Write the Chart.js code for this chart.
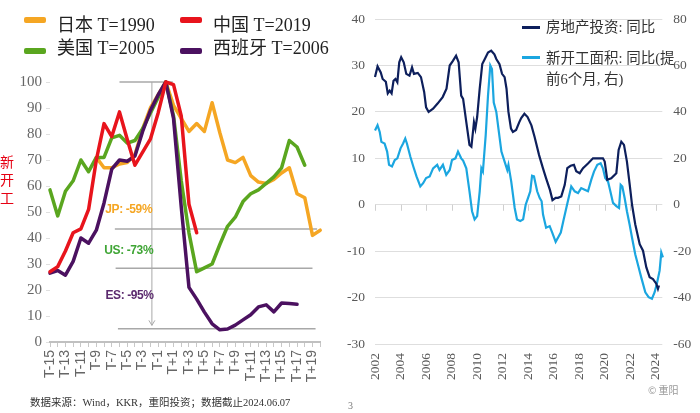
<!DOCTYPE html>
<html><head><meta charset="utf-8">
<script src="https://cdn.jsdelivr.net/npm/chart.js@4.4.1/dist/chart.umd.min.js"></script>
<style>
html,body{margin:0;padding:0;background:#fff;}
body{width:700px;height:413px;position:relative;overflow:hidden;font-family:'Liberation Serif','Noto Sans CJK SC',serif;}
.abs{position:absolute;white-space:nowrap;}
#c1wrap{position:absolute;left:0;top:0;width:340px;height:413px;}
#c2wrap{position:absolute;left:340px;top:0;width:360px;height:413px;}
.sw{position:absolute;height:6px;width:22px;border-radius:2px;}
.lg1{position:absolute;font-size:18px;line-height:20px;color:#222;white-space:nowrap;}
.sw2{position:absolute;height:3px;width:18px;}
.lg2{position:absolute;font-size:14.5px;line-height:18px;color:#333;white-space:nowrap;}
</style></head><body>
<div id="c1wrap"><canvas id="c1" width="340" height="413"></canvas></div>
<div id="c2wrap"><canvas id="c2" width="360" height="413"></canvas></div>
<div id="leg1"></div>
<div id="leg2"></div>
<div class="abs" style="left:0;top:152px;width:14px;font-size:14px;line-height:18px;color:#e60012;text-align:center;font-family:'Noto Sans CJK SC';white-space:normal;">新<br>开<br>工</div>
<div class="abs" style="left:30px;top:394px;font-size:10.5px;color:#333;">数据来源：Wind，KKR，重阳投资；数据截止2024.06.07</div>
<div class="abs" style="left:648px;top:382px;font-size:10px;color:#999;font-family:'Noto Sans CJK SC';">© 重阳</div>
<div class="abs" style="left:348px;top:400px;font-size:10px;color:#777;">3</div>
<script>
// ---------- Left chart data ----------
const categories = ['T-15','T-14','T-13','T-12','T-11','T-10','T-9','T-8','T-7','T-6','T-5','T-4','T-3','T-2','T-1','T',
  'T+1','T+2','T+3','T+4','T+5','T+6','T+7','T+8','T+9','T+10','T+11','T+12','T+13','T+14','T+15','T+16','T+17','T+18','T+19','T+20'];
const japan = [null,null,null,null,null,null,71,67,67,68.5,69,72,82,90,95,100,
  91,86,81,84,81,92,80.5,70,69,71,64,61.5,61,62.5,65,67,57,55.5,41,43];
const china = [27,29,35,42,43.5,51,70,84,79,88.5,78,68,73,78,88,100,
  99,87,53,42,null,null,null,null,null,null,null,null,null,null,null,null,null,null,null,null];
const usa = [58.5,48.5,58,62,70,65.5,71,71,78.5,79.5,76.5,77.5,82,88,94,100,
  87,62,42,27,28.5,30,37.5,44.5,48,54,57,58.5,61,63.5,67,77.5,75,68,null,null];
const spain = [26.5,27.5,25.7,31,40,38,43,53.5,66.5,70,69.5,71.5,81,89,95,100,
  86,52,21,16.5,11.5,7,4.7,5,6.5,8.5,10.5,13.5,14.3,11.6,15,14.8,14.5,null,null,null];
const seriesLabels = ['日本 T=1990','中国 T=2019','美国 T=2005','西班牙 T=2006'];

// ---------- Right chart data ----------
const invYears = [2002.0,2002.2,2002.45,2002.6,2002.85,2003.0,2003.15,2003.3,2003.45,2003.6,2003.75,2003.9,2004.05,2004.25,2004.45,2004.7,2004.9,2005.05,2005.35,2005.6,2005.85,2006.0,2006.2,2006.55,2006.9,2007.3,2007.6,2007.85,2008.1,2008.35,2008.55,2008.75,2008.9,2009.15,2009.4,2009.55,2009.75,2009.86,2010.0,2010.2,2010.4,2010.6,2010.85,2011.1,2011.35,2011.5,2011.75,2011.95,2012.15,2012.3,2012.45,2012.65,2012.8,2013.05,2013.3,2013.45,2013.7,2013.95,2014.25,2014.5,2014.85,2015.15,2015.4,2015.7,2015.9,2016.15,2016.33,2016.59,2016.86,2017.06,2017.32,2017.58,2017.76,2018.03,2018.29,2018.68,2019.07,2019.46,2019.85,2019.99,2020.19,2020.5,2020.9,2021.08,2021.29,2021.5,2021.73,2021.95,2022.13,2022.38,2022.73,2022.99,2023.25,2023.51,2023.77,2024.03,2024.16,2024.24];
const invValues = [27.5,29.8,28.5,27.1,26.5,24.0,24.6,24.0,26.7,27.1,26.4,30.7,31.8,30.7,28.2,27.8,29.6,28.2,28.4,27.5,24.3,21.0,20.0,20.7,21.8,23.2,25.0,30.0,31.0,32.1,30.7,23.5,22.8,17.8,12.9,12.5,17.8,16.4,18.9,25.0,30.3,31.4,32.8,33.2,32.4,31.4,30.3,28.2,27.5,25.0,20.0,16.4,15.7,16.1,17.8,18.7,19.6,18.9,17.1,14.6,10.7,7.9,5.7,3.2,1.0,1.5,1.5,1.8,4.3,7.9,8.4,8.6,7.2,6.8,7.9,8.9,10.0,10.0,10.0,9.3,5.4,5.7,6.8,11.8,13.6,12.9,9.3,4.3,0.0,-4.2,-8.5,-9.9,-13.5,-15.6,-16.0,-17.0,-18.1,-17.4];
const startYears = [2002.0,2002.2,2002.37,2002.5,2002.75,2002.95,2003.1,2003.33,2003.55,2003.75,2004.0,2004.2,2004.37,2004.5,2004.77,2005.0,2005.25,2005.55,2005.77,2006.0,2006.28,2006.55,2006.87,2007.05,2007.32,2007.58,2007.85,2008.03,2008.3,2008.5,2008.75,2008.9,2009.15,2009.4,2009.6,2009.8,2010.0,2010.2,2010.33,2010.45,2010.67,2010.85,2011.03,2011.16,2011.3,2011.5,2011.7,2011.9,2012.15,2012.36,2012.45,2012.67,2012.94,2013.12,2013.38,2013.6,2013.8,2013.98,2014.16,2014.3,2014.45,2014.7,2014.9,2015.05,2015.16,2015.4,2015.68,2015.88,2016.15,2016.35,2016.55,2016.75,2017.0,2017.25,2017.37,2017.64,2017.9,2018.15,2018.42,2018.68,2018.94,2019.15,2019.41,2019.67,2019.85,2020.03,2020.25,2020.43,2020.64,2020.9,2021.11,2021.24,2021.37,2021.55,2021.73,2021.94,2022.13,2022.38,2022.65,2022.85,2023.17,2023.43,2023.69,2023.9,2024.1,2024.29,2024.42,2024.55,2024.69];
const startValues = [32,34.3,31.4,27.1,26.4,22.9,17.2,16.5,19.3,20.0,24.3,26.4,28.5,26.4,20.7,16.5,12.2,7.9,9.3,11.5,12.2,15.7,17.2,15.0,17.2,12.9,15.0,19.3,20.0,22.9,20.0,19.0,15.7,5.8,-2.8,-6.3,-4.9,5.8,15.7,14.3,30,47,60,58.5,44,40,31.4,22.9,18.6,15,17.2,10,-1.4,-6.3,-7,-6.3,0,2.9,5.8,12.5,12.2,5.8,2.9,1.5,-4.2,-9.9,-9.2,-12,-16,-14,-12,-7,-1,5,7.9,5.8,5,7.2,6.5,5.8,10.8,14.3,17.2,17.9,15.7,11.5,10,5.8,0.8,-0.6,-1.4,8.6,7.9,2.9,-2.8,-8.5,-14.2,-21.3,-27,-31.3,-37.7,-39.8,-40.5,-37.7,-33.4,-28.4,-20.6,-22.7,-22];
const leftTicks = {min:-30,max:40,step:10};
const rightTicks = {min:-60,max:80,step:20};
const xYears = {min:2002,max:2024.5,step:2};

Chart.defaults.devicePixelRatio = 1;
Chart.defaults.animation = false;

// ---------- Left chart ----------
const colors1 = ['#f5a623','#e8141c','#5aa61f','#4b1160'];
const annot = {
  id:'annot',
  beforeDatasetsDraw(chart){
    const {ctx, scales:{x,y}} = chart;
    ctx.save();
    ctx.strokeStyle='#a8a8a8'; ctx.lineWidth=1.5;
    const hl=(i0,i1,v)=>{ctx.beginPath();ctx.moveTo(x.getPixelForValue(i0),y.getPixelForValue(v));ctx.lineTo(x.getPixelForValue(i1),y.getPixelForValue(v));ctx.stroke();};
    hl(9.0,15.9,100); hl(8.4,34.6,43.5); hl(8.5,34,28.4); hl(8.8,34.4,5.1);
    const ax=x.getPixelForValue(13.2), ay0=y.getPixelForValue(100), ay1=y.getPixelForValue(6.4);
    ctx.lineWidth=1; ctx.beginPath(); ctx.moveTo(ax,ay0); ctx.lineTo(ax,ay1); ctx.stroke();
    ctx.beginPath(); ctx.moveTo(ax-3,ay1-5); ctx.lineTo(ax,ay1); ctx.lineTo(ax+3,ay1-5); ctx.stroke();
    ctx.font='bold 12px "Liberation Sans Narrow", "Liberation Sans"';
    ctx.textAlign='center'; ctx.textBaseline='middle';
    try{ctx.letterSpacing='-0.4px';}catch(e){}
    ctx.fillStyle='#f5a623'; ctx.fillText('JP: -59%', x.getPixelForValue(10.2), y.getPixelForValue(50.7));
    ctx.fillStyle='#3fa535'; ctx.fillText('US: -73%', x.getPixelForValue(10.2), y.getPixelForValue(35.3));
    ctx.fillStyle='#5b2a6e'; ctx.fillText('ES: -95%', x.getPixelForValue(10.3), y.getPixelForValue(18));
    ctx.restore();
  }
};
const ds1 = [japan, china, usa, spain].map((d,i)=>({
  label: seriesLabels[i], data: d, borderColor: colors1[i], backgroundColor: colors1[i],
  borderWidth: 3.5, pointRadius: 0, tension: 0, clip: false, borderJoinStyle:'round', borderCapStyle:'round',
  order: [4,1,3,2][i]
}));
const chart1 = new Chart(document.getElementById('c1'), {
  type:'line',
  data:{labels: categories, datasets: ds1},
  options:{
    responsive:false,
    layout:{padding:{top:82,right:15,left:0,bottom:0}},
    plugins:{legend:{display:false}, tooltip:{enabled:false}},
    scales:{
      x:{
        offset:false,
        grid:{drawOnChartArea:false, tickLength:5, color:'#c8c8c8'},
        border:{color:'#c0c0c0', width:2},
        ticks:{autoSkip:false, maxRotation:90, minRotation:90, padding:3, color:'#666',
          font:{family:'Liberation Sans', size:14},
          callback:(v,i)=> i%2===0 ? categories[i] : ''},
        afterFit:(s)=>{s.height=71;}
      },
      y:{
        min:0, max:100,
        ticks:{stepSize:10, color:'#666', padding:4, font:{family:'Liberation Sans Narrow', size:15}},
        grid:{drawOnChartArea:false, tickLength:4, color:'#e0e0e0'},
        border:{display:false},
        afterFit:(s)=>{s.width=50;}
      }
    }
  },
  plugins:[annot]
});

// left legend (HTML, built from datasets)
(function(){
  const pos=[[24,17,57,15],[180,17,213,15],[24,48,57,38],[180,48,213,38]];
  const leg=document.getElementById('leg1');
  seriesLabels.forEach((t,i)=>{
    const p=pos[i];
    const s=document.createElement('div'); s.className='sw'; s.style.left=p[0]+'px'; s.style.top=p[1]+'px'; s.style.background=colors1[i]; leg.appendChild(s);
    const l=document.createElement('div'); l.className='lg1'; l.style.left=p[2]+'px'; l.style.top=p[3]+'px'; l.textContent=t; leg.appendChild(l);
  });
})();

// ---------- Right chart ----------
const colors2 = ['#0d1f5c','#1ba6e0'];
const labels2 = ['房地产投资: 同比','新开工面积: 同比(提前6个月, 右)'];
const zeroTicks = {
  id:'zeroTicks',
  beforeDatasetsDraw(chart){
    const {ctx, scales:{x,y}} = chart;
    const y0=y.getPixelForValue(0);
    ctx.save(); ctx.strokeStyle='#cfcfcf'; ctx.lineWidth=1;
    x.ticks.forEach(t=>{const px=Math.round(x.getPixelForValue(t.value))+0.5; ctx.beginPath(); ctx.moveTo(px,y0); ctx.lineTo(px,y0+6); ctx.stroke();});
    ctx.restore();
  }
};
const chart2 = new Chart(document.getElementById('c2'), {
  type:'line',
  data:{datasets:[
    {label:labels2[0], data: invYears.map((t,i)=>({x:t,y:invValues[i]})), yAxisID:'y', borderColor:colors2[0], borderWidth:2.2, pointRadius:0, tension:0, clip:{left:2,right:10,top:4,bottom:4}},
    {label:labels2[1], data: startYears.map((t,i)=>({x:t,y:startValues[i]})), yAxisID:'y2', borderColor:colors2[1], borderWidth:2.2, pointRadius:0, tension:0, clip:{left:2,right:10,top:4,bottom:4}}
  ]},
  options:{
    responsive:false,
    layout:{padding:{top:17,right:0,left:0,bottom:0}},
    plugins:{legend:{display:false}, tooltip:{enabled:false}},
    scales:{
      x:{
        type:'linear', min:xYears.min, max:xYears.max,
        grid:{display:false, drawTicks:false},
        border:{display:false},
        ticks:{stepSize:xYears.step, includeBounds:false, autoSkip:false, maxRotation:90, minRotation:90, padding:9, color:'#595959',
          font:{family:'Liberation Serif', size:13.5}, callback:(v)=>String(v)},
        afterFit:(s)=>{s.height=69;}
      },
      y:{
        position:'left', min:leftTicks.min, max:leftTicks.max,
        ticks:{stepSize:leftTicks.step, padding:10, color:'#595959', font:{family:'Liberation Serif', size:13.5}},
        grid:{color:'#dedede', lineWidth:1, drawTicks:false},
        border:{display:false},
        afterFit:(s)=>{s.width=35;}
      },
      y2:{
        position:'right', min:rightTicks.min, max:rightTicks.max,
        ticks:{stepSize:rightTicks.step, padding:11, color:'#595959', font:{family:'Liberation Serif', size:13.5}},
        grid:{display:false, drawTicks:false},
        border:{display:false},
        afterFit:(s)=>{s.width=37.7;}
      }
    }
  },
  plugins:[zeroTicks]
});

// right legend
(function(){
  const leg=document.getElementById('leg2');
  const add=(cls,css,txt)=>{const d=document.createElement('div'); d.className=cls; Object.assign(d.style,css); if(txt) d.textContent=txt; leg.appendChild(d);};
  add('sw2',{left:'522px',top:'26px',background:colors2[0]});
  add('lg2',{left:'546px',top:'18px'},'房地产投资: 同比');
  add('sw2',{left:'522px',top:'56px',background:colors2[1]});
  add('lg2',{left:'546px',top:'49px'},'新开工面积: 同比(提');
  add('lg2',{left:'546px',top:'70px'},'前6个月, 右)');
})();
</script>
</body></html>
